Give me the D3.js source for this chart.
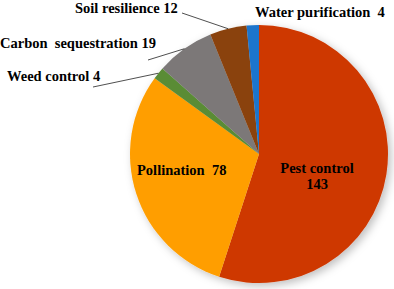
<!DOCTYPE html>
<html>
<head>
<meta charset="utf-8">
<script src="https://cdn.jsdelivr.net/npm/d3@7"></script>
<style>
  body { margin: 0; background: #fff; }
</style>
</head>
<body>
<div id="content"></div>
<script>
const categories = ['Pest control', 'Pollination', 'Weed control', 'Carbon sequestration', 'Soil resilience', 'Water purification'];
const values = [143, 78, 4, 19, 12, 4];
const colors = ['#CE3800', '#FF9E00', '#5A8C36', '#7B7878', '#8A420F', '#1B74CC'];

var width = 394;
var height = 289;
var cx = 259, cy = 154, radius = 129;

const svg = d3.select('#content')
              .append('svg')
              .attr('width', width)
              .attr('height', height);

const defs = svg.append('defs');
defs.append('filter')
    .attr('id', 'shadow')
    .attr('x', '-20%').attr('y', '-20%')
    .attr('width', '140%').attr('height', '140%')
    .append('feDropShadow')
    .attr('dx', 3).attr('dy', 3)
    .attr('stdDeviation', 4)
    .attr('flood-color', '#000')
    .attr('flood-opacity', 0.25);

const pie = d3.pie().sort(null).value(d => d.value);
const arc = d3.arc().innerRadius(0).outerRadius(radius);

const data = categories.map((c, i) => ({ name: c, value: values[i], color: colors[i] }));
const arcs = pie(data);

const g = svg.append('g')
             .attr('transform', 'translate(' + cx + ',' + cy + ')');

g.append('g')
 .attr('filter', 'url(#shadow)')
 .selectAll('path')
 .data(arcs)
 .enter()
 .append('path')
 .attr('d', arc)
 .attr('fill', d => d.data.color);

// label text per slice, placed by hand (\u00A0 keeps the wide gaps)
const labels = [
    { lines: ['Pest control', '143'], x: 317, y: 173, anchor: 'middle' },
    { lines: ['Pollination\u00A0 78'], x: 137, y: 175, anchor: 'start' },
    { lines: ['Weed control 4'], x: 7, y: 81, anchor: 'start' },
    { lines: ['Carbon\u00A0 sequestration 19'], x: 0, y: 48, anchor: 'start' },
    { lines: ['Soil resilience 12'], x: 75, y: 13, anchor: 'start' },
    { lines: ['Water purification\u00A0 4'], x: 255, y: 17, anchor: 'start' }
];

labels.forEach(l => {
    l.lines.forEach((s, i) => {
        svg.append('text')
           .attr('x', l.x)
           .attr('y', l.y + i * 16)
           .attr('text-anchor', l.anchor)
           .attr('font-family', 'Liberation Serif')
           .attr('font-weight', 'bold')
           .attr('font-size', 14.5)
           .attr('fill', '#000')
           .text(s);
    });
});

// leader lines from labels to the edge of the small slices
const leaders = [
    { i: 2, from: [93, 87] },
    { i: 3, from: [148, 60] },
    { i: 4, from: [182, 13] }
];
leaders.forEach(l => {
    const a = arcs[l.i];
    const mid = (a.startAngle + a.endAngle) / 2;
    const tx = cx + Math.sin(mid) * radius;
    const ty = cy - Math.cos(mid) * radius;
    svg.append('line')
       .attr('x1', l.from[0]).attr('y1', l.from[1])
       .attr('x2', tx).attr('y2', ty)
       .attr('stroke', '#222')
       .attr('stroke-width', 0.8);
});
</script>
</body>
</html>
